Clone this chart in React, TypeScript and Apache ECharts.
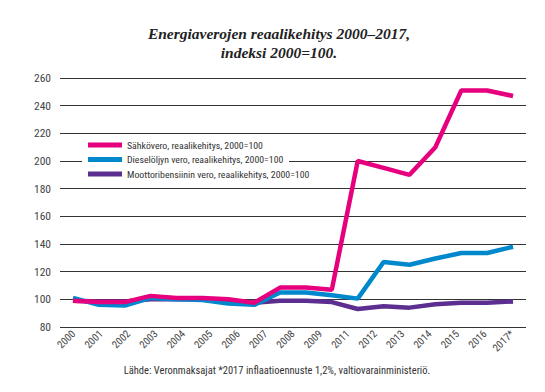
import React, { useEffect, useRef } from "react";
import * as echarts from "echarts";

const years = ["2000","2001","2002","2003","2004","2005","2006","2007","2008","2009","2010","2011","2012","2013","2014","2015","2016","2017"];
const tickLabels = ["2000","2001","2002","2003","2004","2005","2006","2007","2008","2009","2011","2012","2013","2014","2015","2016","2017*"];
const sahkovero = [99, 98, 98, 102.5, 101, 101, 100, 97.5, 108.5, 108.5, 107, 200, 195, 190, 210, 251, 251, 247];
const diesel = [101, 96, 95.5, 101, 100, 99.5, 97, 96, 105, 105, 103, 100.5, 127, 125, 129.5, 133.5, 133.5, 138];
const bensiini = [99, 98.5, 98.5, 100, 100, 100, 99, 97.5, 99, 99, 98, 93, 95, 94, 96.5, 97.5, 97.5, 98.5];
const seriesNames = [
  "Sähkövero, reaalikehitys, 2000=100",
  "Dieselöljyn vero, reaalikehitys, 2000=100",
  "Moottoribensiinin vero, reaalikehitys, 2000=100",
];
const colors = ["#E6007E", "#0088CC", "#5B2E8F"];

const condensed = "'Roboto Condensed', 'DejaVu Sans Condensed', sans-serif";

export default function App() {
  const ref = useRef<HTMLDivElement>(null);
  useEffect(() => {
    document.body.style.margin = "0";
    const chart = echarts.init(ref.current!, undefined, { renderer: "svg" });
    chart.setOption({
      animation: false,
      backgroundColor: "#ffffff",
      grid: { left: 60, right: 19, top: 78, bottom: 65 },
      xAxis: [
        {
          type: "category",
          data: years,
          boundaryGap: true,
          axisLine: { show: false },
          axisTick: { show: false },
          axisLabel: { show: false },
        },
        {
          type: "category",
          data: tickLabels,
          position: "bottom",
          boundaryGap: true,
          axisLine: { show: false },
          axisTick: { show: false },
          axisLabel: {
            rotate: 45,
            margin: 5,
            fontSize: 10.5,
            color: "#444",
            fontFamily: condensed,
            interval: 0,
          },
        },
      ],
      yAxis: {
        type: "value",
        min: 80,
        max: 260,
        interval: 20,
        axisLine: { show: false },
        axisTick: { show: false },
        axisLabel: { fontSize: 11.5, color: "#444", margin: 9, fontFamily: condensed },
        splitLine: { lineStyle: { color: "#333", width: 1 } },
      },
      legend: {
        orient: "vertical",
        left: 88,
        top: 138,
        padding: 0,
        itemGap: 0.5,
        itemWidth: 34,
        itemHeight: 5,
        icon: "rect",
        data: seriesNames,
        textStyle: { fontSize: 9.8, color: "#333", fontFamily: condensed, lineHeight: 14 },
        z: 20,
      },
      graphic: [
        {
          type: "rect",
          z: 10,
          shape: { x: 82, y: 138, width: 207, height: 44 },
          style: { fill: "#ffffff" },
        },
        {
          type: "text",
          x: 279,
          y: 24,
          style: {
            text: "Energiaverojen reaalikehitys 2000–2017,\nindeksi 2000=100.",
            textAlign: "center",
            fontFamily: "'Liberation Serif', serif",
            fontStyle: "italic",
            fontWeight: "bold",
            fontSize: 15.5,
            lineHeight: 19,
            fill: "#222",
          },
        },
        {
          type: "text",
          x: 277,
          y: 365,
          style: {
            text: "Lähde: Veronmaksajat *2017 inflaatioennuste 1,2%, valtiovarainministeriö.",
            textAlign: "center",
            fontFamily: condensed,
            fontSize: 10.5,
            fill: "#333",
          },
        },
      ],
      series: [
        {
          name: seriesNames[2],
          type: "line",
          data: bensiini,
          xAxisIndex: 0,
          symbol: "none",
          lineStyle: { width: 4.5, color: colors[2] },
          itemStyle: { color: colors[2] },
          z: 2,
        },
        {
          name: seriesNames[1],
          type: "line",
          data: diesel,
          xAxisIndex: 0,
          symbol: "none",
          lineStyle: { width: 4.5, color: colors[1] },
          itemStyle: { color: colors[1] },
          z: 3,
        },
        {
          name: seriesNames[0],
          type: "line",
          data: sahkovero,
          xAxisIndex: 0,
          symbol: "none",
          lineStyle: { width: 4.5, color: colors[0] },
          itemStyle: { color: colors[0] },
          z: 4,
        },
      ],
    });
    return () => chart.dispose();
  }, []);
  return <div ref={ref} style={{ width: 545, height: 392 }} />;
}
